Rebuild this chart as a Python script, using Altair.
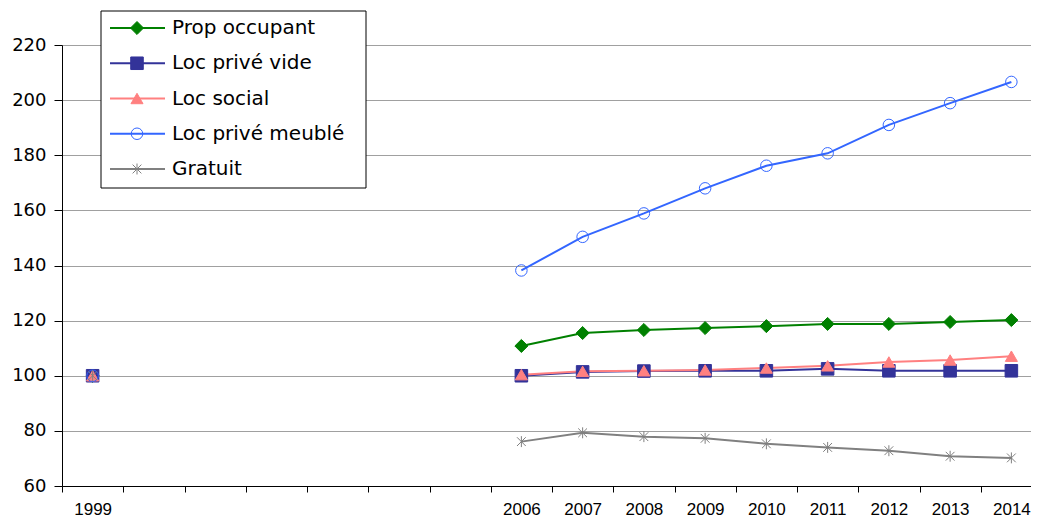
import altair as alt
import pandas as pd

# ---- data ----
series_names = ["Prop occupant", "Loc privé vide", "Loc social", "Loc privé meublé", "Gratuit"]
years_all = list(range(1999, 2015))
years_obs = [1999, 2006, 2007, 2008, 2009, 2010, 2011, 2012, 2013, 2014]
prop_occupant = [100, 110.8, 115.5, 116.6, 117.3, 118.0, 118.8, 118.8, 119.5, 120.2]
loc_prive_vide = [100, 100.0, 101.4, 101.7, 101.8, 101.8, 102.5, 101.8, 101.8, 101.8]
loc_social = [100, 100.4, 101.6, 101.8, 102.1, 102.8, 103.6, 105.0, 105.7, 107.1]
loc_prive_meuble = [100, 138.2, 150.4, 158.9, 168.0, 176.2, 180.7, 191.0, 198.9, 206.6]
gratuit = [100, 76.1, 79.3, 77.9, 77.3, 75.3, 74.0, 72.8, 70.8, 70.2]
y_ticks = [60, 80, 100, 120, 140, 160, 180, 200, 220]

# ---- styles ----
colors = ["#008000", "#333399", "#FF8080", "#3366FF", "#808080"]
fills = ["#008000", "#333399", "#FF8080", "transparent", "transparent"]
shapes = ["diamond", "square", "triangle-up", "circle",
          "M-0.8,-0.8L0.8,0.8M-0.8,0.8L0.8,-0.8M0,-1L0,1"]
sizes = [170, 120, 150, 100, 260]
widths = [1, 1, 1, 2, 1.8]

all_values = [prop_occupant, loc_prive_vide, loc_social, loc_prive_meuble, gratuit]
rows = []
for name, vals in zip(series_names, all_values):
    for yr, v in zip(years_obs, vals):
        rows.append({"series": name, "year": yr, "value": v,
                     "seg": "a" if yr == 1999 else "b"})
df = pd.DataFrame(rows)
leg_df = pd.DataFrame({"series": series_names, "k": list(range(len(series_names)))})

color_scale = alt.Scale(domain=series_names, range=colors)
fill_scale = alt.Scale(domain=series_names, range=fills)
shape_scale = alt.Scale(domain=series_names, range=shapes)
size_scale = alt.Scale(domain=series_names, range=sizes)
sw_scale = alt.Scale(domain=series_names, range=widths)

x_enc = alt.X(
    "year:O",
    scale=alt.Scale(type="band", domain=years_all, paddingInner=0, paddingOuter=0, range=[0, 980]),
    axis=alt.Axis(
        title=None, labelAngle=0, grid=False, tickBand="extent",
        domainColor="black", tickColor="black", tickSize=6,
        labelFont="Liberation Sans", labelFontSize=17, labelColor="black",
        labelPadding=9, labelOverlap=False, labelFlush=False,
        labelExpr="(datum.value >= 2000 && datum.value <= 2005) ? '' : datum.label",
    ),
)
y_enc = alt.Y(
    "value:Q",
    scale=alt.Scale(domain=[60, 220], nice=False, zero=False),
    axis=alt.Axis(
        title=None, values=y_ticks, grid=True, gridColor="#a0a0a0", gridWidth=1,
        domainColor="black", tickColor="black", tickSize=8,
        labelFont="DejaVu Sans", labelFontSize=18, labelColor="black", labelPadding=8,
    ),
)

base = alt.Chart(df)
lines = base.mark_line(strokeWidth=2).encode(
    x=x_enc, y=y_enc,
    color=alt.Color("series:N", scale=color_scale, legend=None),
    detail="seg:N",
)
points = base.mark_point(opacity=1).encode(
    x=x_enc, y=y_enc,
    shape=alt.Shape("series:N", scale=shape_scale, legend=None),
    stroke=alt.Stroke("series:N", scale=color_scale, legend=None),
    fill=alt.Fill("series:N", scale=fill_scale, legend=None),
    size=alt.Size("series:N", scale=size_scale, legend=None),
    strokeWidth=alt.StrokeWidth("series:N", scale=sw_scale, legend=None),
    order=alt.Order("k:Q"),
).transform_calculate(k="indexof(" + str(series_names).replace("'", '"') + ", datum.series)")

# ---- manual legend ----
box = alt.Chart(pd.DataFrame({"a": [0]})).mark_rect(
    fill="white", stroke="black", strokeWidth=1
).encode(x=alt.value(39), x2=alt.value(304), y=alt.value(-34), y2=alt.value(143))

leg = alt.Chart(leg_df).transform_calculate(py="-17 + datum.k * 35.25")
leg_y = alt.Y("py:Q", scale=None, axis=None)
leg_rules = leg.mark_rule(strokeWidth=2).encode(
    x=alt.value(48), x2=alt.value(103), y=leg_y,
    color=alt.Color("series:N", scale=color_scale, legend=None),
)
leg_pts = leg.mark_point(opacity=1).encode(
    x=alt.value(75), y=leg_y,
    shape=alt.Shape("series:N", scale=shape_scale, legend=None),
    stroke=alt.Stroke("series:N", scale=color_scale, legend=None),
    fill=alt.Fill("series:N", scale=fill_scale, legend=None),
    size=alt.Size("series:N", scale=size_scale, legend=None),
    strokeWidth=alt.StrokeWidth("series:N", scale=sw_scale, legend=None),
)
leg_txt = leg.mark_text(
    align="left", baseline="middle", font="DejaVu Sans", fontSize=20, color="black"
).encode(x=alt.value(110), y=leg_y, text="series:N")

chart = alt.layer(lines, points, box, leg_rules, leg_pts, leg_txt).properties(
    width=969, height=441,
    autosize=alt.AutoSizeParams(type="none"),
    padding={"left": 54, "top": 37, "right": 0, "bottom": 31},
).configure_view(strokeWidth=0).configure(background="white")

chart.save("out.html", embed_options={"renderer": "svg", "actions": False})
